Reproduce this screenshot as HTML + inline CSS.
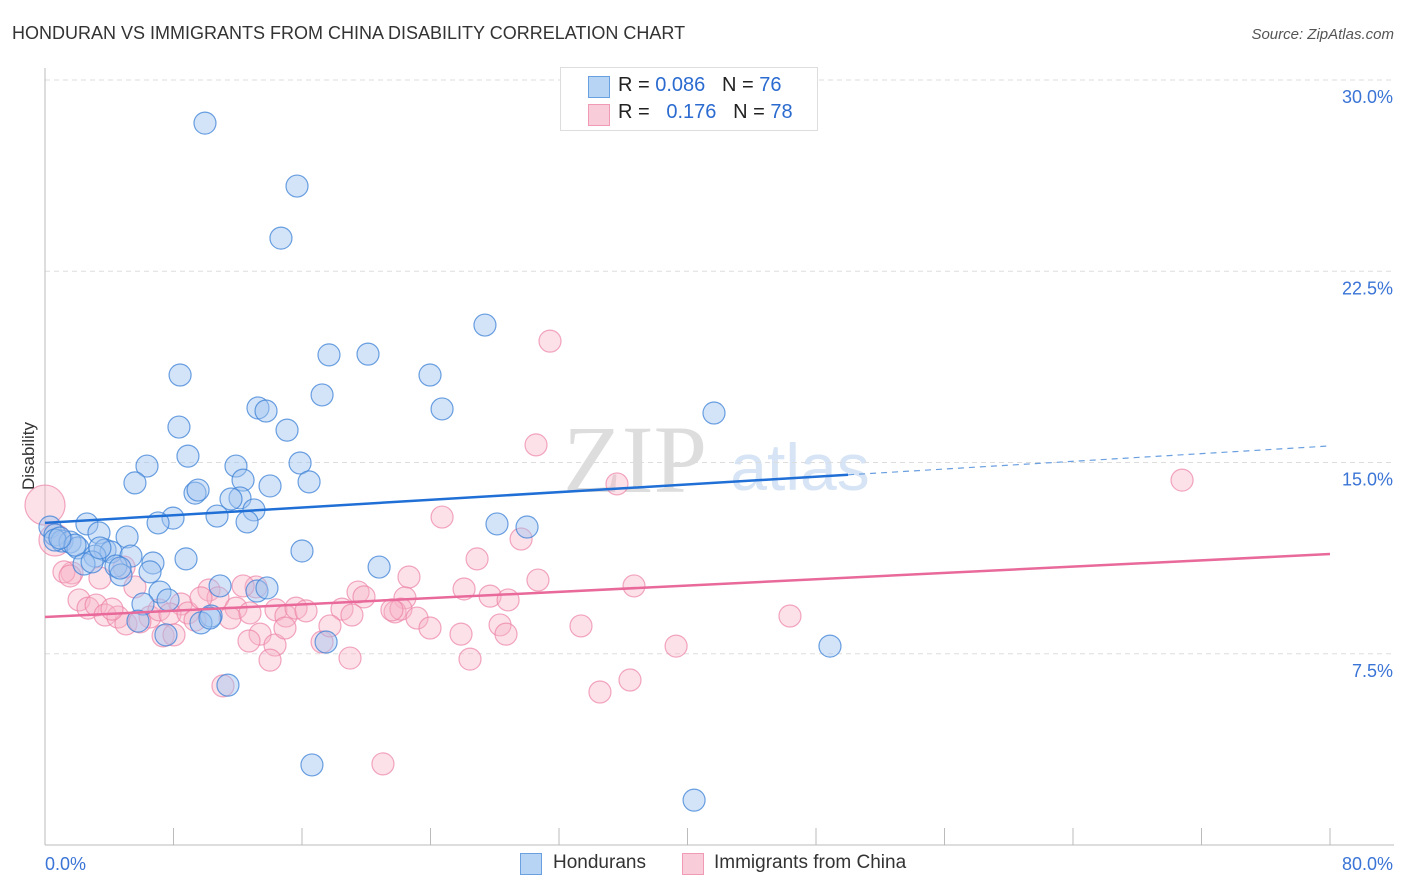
<!DOCTYPE html>
<html><head><meta charset="utf-8"><style>
body{margin:0;background:#fff;font-family:"Liberation Sans",sans-serif;}
#wrap{position:relative;width:1406px;height:892px;overflow:hidden}
</style></head><body>
<div id="wrap">
<svg id="chart" width="1406" height="892" style="position:absolute;left:0;top:0">
<text x="12" y="39" font-size="18" fill="#333">HONDURAN VS IMMIGRANTS FROM CHINA DISABILITY CORRELATION CHART</text>
<text x="1394" y="39" font-size="15" fill="#555" font-style="italic" text-anchor="end">Source: ZipAtlas.com</text>
<text x="34" y="456" font-size="17" fill="#333" transform="rotate(-90 34 456)" text-anchor="middle">Disability</text>
<text x="635" y="492" font-size="96" fill="#ddd" text-anchor="middle" font-family="Liberation Serif,serif">ZIP</text>
<text x="800" y="490" font-size="66" fill="#d6e4f5" text-anchor="middle">atlas</text>
<g id="grid"></g><g id="axes"></g><g id="pink"></g><g id="blue"></g><g id="trends"></g>
</svg>
<div style="position:absolute;left:560px;top:67px;width:256px;height:62px;border:1px solid #ddd;background:#fff;font-size:20px;color:#222">
 <div style="position:absolute;left:27px;top:8px;width:20px;height:20px;background:#b8d4f4;border:1px solid #6a9fe0"></div>
 <div style="position:absolute;left:57px;top:6px">R = <span style="color:#2b6bd0">0.086</span>&nbsp;&nbsp;&nbsp;N = <span style="color:#2b6bd0">76</span></div>
 <div style="position:absolute;left:27px;top:36px;width:20px;height:20px;background:#f9ccd9;border:1px solid #f09ab5"></div>
 <div style="position:absolute;left:57px;top:33px">R = &nbsp;&nbsp;<span style="color:#2b6bd0">0.176</span>&nbsp;&nbsp;&nbsp;N = <span style="color:#2b6bd0">78</span></div>
</div>
<div style="position:absolute;top:852px;left:520px;font-size:19px;color:#333">
 <span style="position:absolute;left:0;top:1px;width:20px;height:20px;background:#b8d4f4;border:1px solid #6a9fe0;display:block"></span>
 <span style="position:absolute;left:33px;top:0;white-space:nowrap">Hondurans</span>
 <span style="position:absolute;left:162px;top:1px;width:20px;height:20px;background:#f9ccd9;border:1px solid #f09ab5;display:block"></span>
 <span style="position:absolute;left:194px;top:0;white-space:nowrap">Immigrants from China</span>
</div>
</div>
<script>
const yTicks=[7.5,15,22.5,30];
const yTickLabels=["7.5%","15.0%","22.5%","30.0%"];
const xTickLabels=["0.0%","80.0%"];
const blueX=[9.96,15.69,14.69,27.39,17.68,20.11,8.41,23.97,17.25,13.26,13.76,24.72,41.65,8.34,15.07,8.90,6.35,11.89,15.88,5.60,12.33,16.44,9.34,9.53,14.01,12.14,11.58,13.01,10.71,7.97,7.04,12.58,28.14,30.01,2.61,0.31,0.62,3.36,5.11,1.06,1.56,0.62,2.05,3.74,4.11,16.00,5.35,8.78,6.72,3.11,2.43,2.93,20.80,4.42,4.73,6.54,7.16,7.66,6.10,10.90,13.20,13.82,10.34,9.71,5.79,7.53,17.50,48.87,11.39,16.62,40.41,4.67,1.87,0.93,3.42,10.27];
const blueY=[28.31,25.84,23.80,20.39,19.22,19.25,18.43,18.43,17.65,17.14,17.02,17.10,16.94,16.39,16.27,15.25,14.86,14.86,14.98,14.20,14.31,14.24,13.80,13.92,14.08,13.61,13.57,13.14,12.90,12.82,12.63,12.67,12.59,12.47,12.59,12.47,12.16,12.24,12.08,11.92,11.88,11.96,11.65,11.57,11.49,11.53,11.33,11.22,11.06,11.33,11.02,11.10,10.90,10.94,10.59,10.71,9.92,9.61,9.45,10.16,9.96,10.08,8.98,8.71,8.78,8.24,7.96,7.80,6.27,3.14,1.76,10.86,11.76,12.04,11.65,8.90];
const pinkX=[0,0.62,31.44,30.57,35.61,70.79,24.72,29.64,26.90,30.69,22.66,36.67,26.09,19.49,27.71,28.83,19.86,22.41,13.14,12.33,8.47,5.60,2.12,1.68,1.18,3.42,2.68,3.18,3.74,4.54,5.04,6.54,7.10,7.78,8.90,9.34,10.21,10.77,11.89,11.52,12.76,14.38,15.00,15.63,16.25,18.49,19.11,21.79,22.16,23.16,23.97,25.90,28.33,28.70,33.37,46.38,5.91,7.35,8.03,13.39,12.70,14.32,14.01,17.25,18.99,26.46,39.29,11.08,36.42,34.55,21.04,4.17,4.92,9.71,17.74,21.60,14.94,1.56];
const pinkY=[13.33,11.96,19.76,15.69,14.16,14.31,12.86,12.00,11.22,10.39,10.51,10.16,10.04,9.92,9.76,9.61,9.73,9.69,10.12,10.16,9.45,10.12,9.61,10.67,10.71,10.47,9.29,9.41,9.02,8.94,8.67,8.94,9.22,9.06,9.10,8.82,10.00,9.69,9.29,8.90,9.10,9.22,8.98,9.29,9.18,9.25,9.02,9.14,9.25,8.90,8.51,8.27,8.63,8.27,8.59,8.98,8.75,8.20,8.24,8.27,8.00,7.84,7.25,7.96,7.33,7.29,7.80,6.24,6.47,6.00,3.18,9.25,10.90,9.69,8.59,9.22,8.51,10.55];
const pinkR=[20,16];
const blueTrend=[12.63,15.65];
const blueSolidEnd=50;
const pinkTrend=[8.94,11.41];

const NS="http://www.w3.org/2000/svg";
const X0=45,X1=1330,Y0=845,YTOP=80;
const sx=v=>X0+(v/80)*(X1-X0);
const sy=v=>Y0-(v/30)*(Y0-YTOP);
function mk(t,a,p){const e=document.createElementNS(NS,t);for(const k in a)e.setAttribute(k,a[k]);p.appendChild(e);return e;}
const grid=document.getElementById('grid'),axes=document.getElementById('axes');
yTicks.forEach((v,i)=>{
 const l=mk('line',{x1:X0,x2:1394,y1:sy(v),y2:sy(v),stroke:'#ddd','stroke-dasharray':'5,4'},grid);
 
 
 const t=mk('text',{x:1393,y:sy(v)+23,'font-size':18,fill:'#3a74d6','text-anchor':'end'},axes);
 t.textContent=yTickLabels[i];
 
 
});
const ax=mk('line',{x1:X0,x2:X0,y1:68,y2:Y0,stroke:'#bbb'},axes);


const bx=mk('line',{x1:X0,x2:1394,y1:Y0,y2:Y0,stroke:'#bbb'},axes);


for(let i=1;i<=10;i++){const v=i*8;const tk=mk('line',{x1:sx(v),x2:sx(v),y1:828,y2:Y0,stroke:'#bbb'},axes);
 
 }
[0,80].forEach((v,i)=>{const t=mk('text',{x:i?1393:45,y:870,'font-size':18,fill:'#3a74d6','text-anchor':i?'end':'start'},axes);t.textContent=xTickLabels[i];
 
 });
const pg=document.getElementById('pink'),bg=document.getElementById('blue');
pinkX.forEach((x,i)=>{const c=mk('circle',{cx:sx(x),cy:sy(pinkY[i]),r:pinkR[i]||11,fill:'rgba(248,180,200,0.4)',stroke:'rgba(236,130,165,0.7)','stroke-width':1.2},pg);
 
 });
blueX.forEach((x,i)=>{const c=mk('circle',{cx:sx(x),cy:sy(blueY[i]),r:11,fill:'rgba(160,196,240,0.45)',stroke:'rgba(60,130,215,0.75)','stroke-width':1.2},bg);
 
 });
const tg=document.getElementById('trends');
const bAt=v=>blueTrend[0]+(blueTrend[1]-blueTrend[0])*v/80;
const l1=mk('line',{x1:sx(0),y1:sy(bAt(0)),x2:sx(blueSolidEnd),y2:sy(bAt(blueSolidEnd)),stroke:'#1f6fd6','stroke-width':2.5},tg);


const l2=mk('line',{x1:sx(blueSolidEnd),y1:sy(bAt(blueSolidEnd)),x2:sx(80),y2:sy(bAt(80)),stroke:'#6a9fe0','stroke-width':1.2,'stroke-dasharray':'6,5'},tg);


const l3=mk('line',{x1:sx(0),y1:sy(pinkTrend[0]),x2:sx(80),y2:sy(pinkTrend[1]),stroke:'#e8699a','stroke-width':2.5},tg);


</script>
</body></html>
